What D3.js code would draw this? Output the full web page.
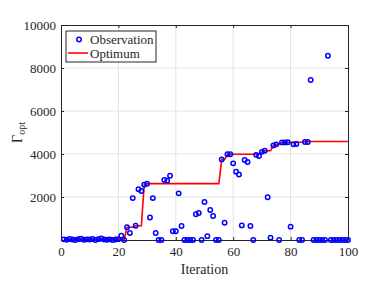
<!DOCTYPE html>
<html>
<head>
<meta charset="utf-8">
<script src="https://cdn.jsdelivr.net/npm/d3@7"></script>
<style>
  body { margin: 0; background: #fff; }
  text { font-family: "Liberation Serif", "DejaVu Serif", serif; fill: #262626; }
</style>
</head>
<body>
<div id="chart"></div>
<script>
// observed value at each iteration (1..100)
const observation = [
  30, 10, 50, 20, 0, 40, 60, 10, 30, 20,
  50, 0, 40, 70, 20, 10, 30, 0, 20, 40,
  200, 0, 590, 325, 1950, 665, 2360, 2280, 2570, 2620,
  1050, 1950, 325, 0, 0, 2790, 2760, 2990, 410, 410,
  2170, 650, 0, 0, 0, 0, 1195, 1255, 0, 1770,
  180, 1395, 1115, 0, 0, 3750, 805, 3985, 3985, 3565,
  3180, 3050, 680, 3720, 3630, 650, 0, 3960, 3910, 4100,
  4150, 1985, 110, 4400, 4450, 0, 4540, 4540, 4550, 620,
  4450, 4465, 0, 0, 4560, 4560, 7440, 0, 0, 0,
  0, 0, 8570, 0, 0, 0, 0, 0, 0, 0
]

// best value found so far
const optimum = [
  30, 30, 30, 30, 30, 30, 30, 30, 30, 30,
  30, 30, 30, 30, 30, 30, 30, 30, 30, 30,
  30, 30, 590, 590, 590, 665, 665, 665, 2570, 2620,
  2620, 2620, 2620, 2620, 2620, 2620, 2620, 2620, 2620, 2620,
  2620, 2620, 2620, 2620, 2620, 2620, 2620, 2620, 2620, 2620,
  2620, 2620, 2620, 2620, 2620, 3750, 3750, 3985, 3985, 3985,
  3985, 3985, 3985, 3985, 3985, 3985, 3985, 3985, 3985, 4100,
  4150, 4150, 4150, 4400, 4450, 4450, 4545, 4545, 4545, 4545,
  4545, 4545, 4545, 4545, 4580, 4580, 4580, 4580, 4580, 4580,
  4580, 4580, 4580, 4580, 4580, 4580, 4580, 4580, 4580, 4580
]

const xTicks = [0, 20, 40, 60, 80, 100]
const yTicks = [0, 2000, 4000, 6000, 8000, 10000]
const legendLabels = ["Observation", "Optimum"]

const width = 389
const height = 284
const margin = {top: 25, right: 41, bottom: 44, left: 61}
const axisColor = "#262626"

const svg = d3.select("#chart")
              .append("svg")
              .attr("width", width)
              .attr("height", height)

const x = d3.scaleLinear()
            .domain([0, 100])
            .range([margin.left, width - margin.right])

const y = d3.scaleLinear()
            .domain([0, 10000])
            .range([height - margin.bottom, margin.top])

// grid
svg.append("g")
   .selectAll("line")
   .data(xTicks.slice(1, -1))
   .enter()
   .append("line")
   .attr("x1", d => x(d)).attr("x2", d => x(d))
   .attr("y1", y(0)).attr("y2", y(10000))
   .attr("stroke", "#e3e3e3")
   .attr("stroke-width", 1)

svg.append("g")
   .selectAll("line")
   .data(yTicks.slice(1, -1))
   .enter()
   .append("line")
   .attr("x1", x(0)).attr("x2", x(100))
   .attr("y1", d => y(d)).attr("y2", d => y(d))
   .attr("stroke", "#e3e3e3")
   .attr("stroke-width", 1)

// axes, ticks pointing inward like matlab
const styleAxis = g => {
  g.select(".domain").attr("stroke", axisColor).attr("stroke-width", 1)
  g.selectAll(".tick line").attr("stroke", axisColor).attr("stroke-width", 1)
  g.selectAll(".tick text")
   .attr("fill", axisColor)
   .style("font-family", "'Liberation Serif', serif")
   .style("font-size", "13px")
}

svg.append("g")
   .attr("transform", `translate(0,${y(0)})`)
   .call(d3.axisBottom(x).tickValues(xTicks).tickSizeInner(-3).tickSizeOuter(0).tickPadding(7))
   .call(styleAxis)

svg.append("g")
   .attr("transform", `translate(0,${y(10000)})`)
   .call(d3.axisTop(x).tickValues(xTicks).tickSizeInner(-3).tickSizeOuter(0).tickFormat(""))
   .call(styleAxis)

svg.append("g")
   .attr("transform", `translate(${x(0)},0)`)
   .call(d3.axisLeft(y).tickValues(yTicks).tickSizeInner(-3).tickSizeOuter(0).tickPadding(5)
           .tickFormat(d => d === 0 ? "" : d))
   .call(styleAxis)

svg.append("g")
   .attr("transform", `translate(${x(100)},0)`)
   .call(d3.axisRight(y).tickValues(yTicks).tickSizeInner(-3).tickSizeOuter(0).tickFormat(""))
   .call(styleAxis)

// optimum line
const line = d3.line()
               .x((d, i) => x(i + 1))
               .y(d => y(d))

svg.append("path")
   .datum(optimum)
   .attr("fill", "none")
   .attr("stroke", "#ff0000")
   .attr("stroke-width", 1.6)
   .attr("d", line)

// observations
svg.append("g")
   .selectAll("circle")
   .data(observation)
   .enter()
   .append("circle")
   .attr("cx", (d, i) => x(i + 1))
   .attr("cy", d => y(d))
   .attr("r", 2.2)
   .attr("fill", "none")
   .attr("stroke", "#0000ff")
   .attr("stroke-width", 1.5)

// axis labels
svg.append("text")
   .attr("x", (x(0) + x(100)) / 2)
   .attr("y", 274)
   .attr("text-anchor", "middle")
   .style("font-size", "14px")
   .text("Iteration")

const ylab = svg.append("text")
   .attr("transform", `translate(22,${(y(0) + y(10000)) / 2}) rotate(-90)`)
   .attr("text-anchor", "middle")
   .style("font-size", "14px")
ylab.append("tspan").text("Γ")
ylab.append("tspan").attr("dy", 3).style("font-size", "10px").text("opt")

// legend
const legend = svg.append("g").attr("transform", "translate(66,31)")

legend.append("rect")
      .attr("width", 90)
      .attr("height", 31)
      .attr("fill", "#fff")
      .attr("stroke", axisColor)
      .attr("stroke-width", 1)

legend.append("circle")
      .attr("cx", 13).attr("cy", 8.5)
      .attr("r", 2.2)
      .attr("fill", "none")
      .attr("stroke", "#0000ff")
      .attr("stroke-width", 1.5)

legend.append("line")
      .attr("x1", 2).attr("x2", 22)
      .attr("y1", 22).attr("y2", 22)
      .attr("stroke", "#ff0000")
      .attr("stroke-width", 1.6)

legend.selectAll("text.lbl")
      .data(legendLabels)
      .enter()
      .append("text")
      .attr("class", "lbl")
      .attr("x", 24)
      .attr("y", (d, i) => 12.5 + i * 14)
      .style("font-size", "13px")
      .text(d => d)
</script>
</body>
</html>
